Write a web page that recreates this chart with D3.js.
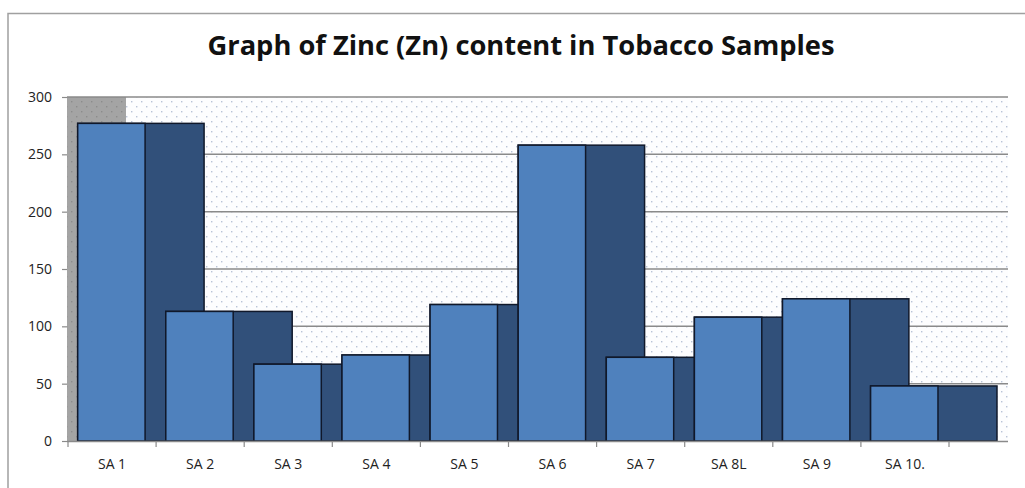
<!DOCTYPE html>
<meta charset="utf-8">
<script src="https://d3js.org/d3.v7.min.js"></script>
<style>
  body { margin: 0; background: #fff; }
</style>
<div id="my_dataviz"></div>
<script>
  // data
  var samples = ["SA 1", "SA 2", "SA 3", "SA 4", "SA 5", "SA 6", "SA 7", "SA 8L", "SA 9", "SA 10."];
  var zinc = [277, 113, 67, 75, 119, 258, 73, 108, 124, 48];
  var yTicks = [0, 50, 100, 150, 200, 250, 300];

  var W = 1025, H = 488;
  var plotL = 67, plotR = 1008, plotT = 97, plotB = 441;
  var depth = 59;

  var svg = d3.select("#my_dataviz")
    .append("svg")
    .attr("width", W)
    .attr("height", H);

  // outer frame (only top and left edges show)
  svg.append("path")
    .attr("d", "M8," + H + "V13.5H" + W)
    .attr("fill", "none")
    .attr("stroke", "#a0a0a0")
    .attr("stroke-width", 1.5);

  // title
  svg.append("text")
    .attr("x", 521)
    .attr("y", 55)
    .attr("text-anchor", "middle")
    .attr("font-family", "'Open Sans', sans-serif")
    .attr("font-weight", "bold")
    .attr("font-size", 26)
    .attr("textLength", 627)
    .attr("lengthAdjust", "spacingAndGlyphs")
    .attr("fill", "#111")
    .text("Graph of Zinc (Zn) content in Tobacco Samples");

  // dotted fills for the walls
  var defs = svg.append("defs");
  var p1 = defs.append("pattern")
    .attr("id", "dots")
    .attr("patternUnits", "userSpaceOnUse")
    .attr("width", 10).attr("height", 10);
  p1.append("rect").attr("width", 10).attr("height", 10).attr("fill", "#fdfdfe");
  p1.append("rect").attr("x", 1).attr("y", 1).attr("width", 1.4).attr("height", 1.4).attr("fill", "#b9c3d6");
  p1.append("rect").attr("x", 6).attr("y", 6).attr("width", 1.4).attr("height", 1.4).attr("fill", "#b9c3d6");

  var p2 = defs.append("pattern")
    .attr("id", "dotsGray")
    .attr("patternUnits", "userSpaceOnUse")
    .attr("width", 10).attr("height", 10);
  p2.append("rect").attr("width", 10).attr("height", 10).attr("fill", "#a4a4a4");
  p2.append("rect").attr("x", 1).attr("y", 1).attr("width", 1.4).attr("height", 1.4).attr("fill", "#8c8c8c");
  p2.append("rect").attr("x", 6).attr("y", 6).attr("width", 1.4).attr("height", 1.4).attr("fill", "#8c8c8c");

  var y = d3.scaleLinear()
    .domain([0, 300])
    .range([plotB, plotT]);

  var x = d3.scaleBand()
    .domain(samples)
    .range([68, 949])
    .padding(0);

  // back wall and left side wall
  svg.append("rect")
    .attr("x", plotL + depth).attr("y", plotT)
    .attr("width", plotR - plotL - depth).attr("height", plotB - plotT)
    .attr("fill", "url(#dots)");
  svg.append("rect")
    .attr("x", plotL).attr("y", plotT)
    .attr("width", depth).attr("height", plotB - plotT)
    .attr("fill", "url(#dotsGray)");

  // gridlines on the back wall
  svg.append("g")
    .selectAll("line")
    .data(yTicks.filter(function (d) { return d > 0; }))
    .enter()
    .append("line")
    .attr("x1", function (d) { return d == 300 ? plotL : plotL + depth; })
    .attr("x2", plotR)
    .attr("y1", function (d) { return y(d); })
    .attr("y2", function (d) { return y(d); })
    .attr("stroke", "#8a8a8a")
    .attr("stroke-width", 1.5);

  // Y axis
  var yAxis = svg.append("g")
    .attr("transform", "translate(" + plotL + ",0)")
    .call(d3.axisLeft(y).tickValues(yTicks).tickSize(5).tickPadding(10));
  yAxis.select(".domain").remove();
  yAxis.selectAll("line").attr("stroke", "#8a8a8a").attr("stroke-width", 1.2);
  yAxis.selectAll("text")
    .attr("font-family", "'Open Sans', sans-serif")
    .attr("font-size", 14)
    .attr("fill", "#222");

  // bars: dark depth block first, then the front face, left to right
  var bw = x.bandwidth();
  var fx = function (d) { return x(d) + bw * 0.11; };
  var fw = bw * 0.765;

  var bars = svg.append("g")
    .selectAll("g")
    .data(samples)
    .enter()
    .append("g");

  bars.append("rect")
    .attr("x", fx)
    .attr("y", function (d, i) { return y(zinc[i]); })
    .attr("width", fw + depth)
    .attr("height", function (d, i) { return plotB - y(zinc[i]); })
    .attr("fill", "#31507a")
    .attr("stroke", "#10182a")
    .attr("stroke-width", 1.5);

  bars.append("rect")
    .attr("x", fx)
    .attr("y", function (d, i) { return y(zinc[i]); })
    .attr("width", fw)
    .attr("height", function (d, i) { return plotB - y(zinc[i]); })
    .attr("fill", "#4f81bd")
    .attr("stroke", "#10182a")
    .attr("stroke-width", 1.5);

  // floor line
  svg.append("line")
    .attr("x1", plotL).attr("x2", plotR)
    .attr("y1", plotB + 0.5).attr("y2", plotB + 0.5)
    .attr("stroke", "#8a8a8a")
    .attr("stroke-width", 1.5);

  // X axis (ticks between categories)
  var xg = svg.append("g")
    .attr("transform", "translate(0," + (plotB + 1) + ")");
  xg.selectAll("line")
    .data(samples.concat(["end"]))
    .enter()
    .append("line")
    .attr("x1", function (d, i) { return 68 + i * bw; })
    .attr("x2", function (d, i) { return 68 + i * bw; })
    .attr("y1", 0).attr("y2", 5)
    .attr("stroke", "#8a8a8a")
    .attr("stroke-width", 1.2);
  xg.selectAll("text")
    .data(samples)
    .enter()
    .append("text")
    .attr("x", function (d) { return x(d) + bw / 2; })
    .attr("y", 27)
    .attr("text-anchor", "middle")
    .attr("font-family", "'Open Sans', sans-serif")
    .attr("font-size", 14)
    .attr("fill", "#222")
    .text(function (d) { return d; });
</script>
